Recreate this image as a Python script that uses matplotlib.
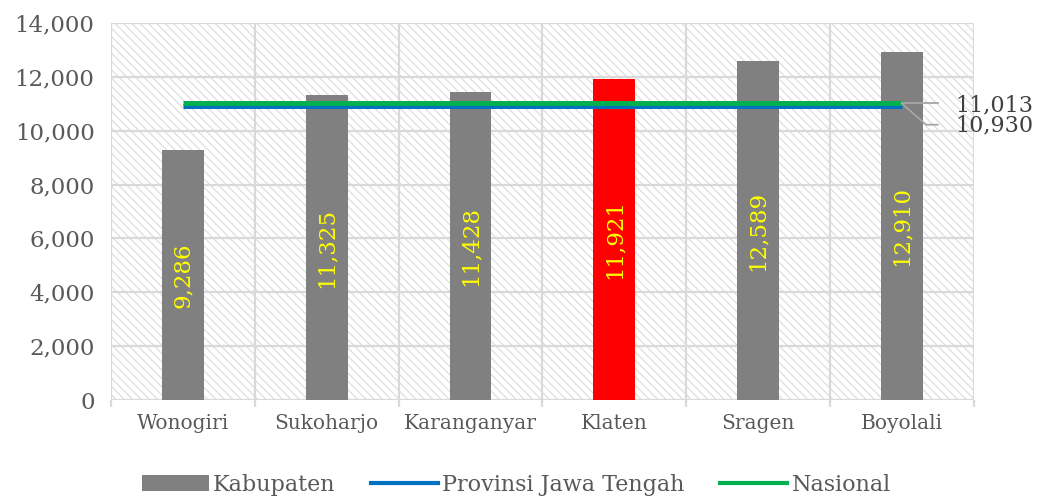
import matplotlib
matplotlib.use("Agg")
import matplotlib.pyplot as plt
from matplotlib.patches import Rectangle
from matplotlib.lines import Line2D
from matplotlib.patches import Patch

plt.rcParams['font.family'] = ['DejaVu Serif']
plt.rcParams['hatch.linewidth'] = 0.9
plt.rcParams['hatch.color'] = '#dedede'

categories = ["Wonogiri", "Sukoharjo", "Karanganyar", "Klaten", "Sragen", "Boyolali"]
kabupaten = [9286, 11325, 11428, 11921, 12589, 12910]
provinsi = 10930
nasional = 11013
bar_colors = ["#808080", "#808080", "#808080", "#ff0000", "#808080", "#808080"]

fig = plt.figure(figsize=(10.39, 4.97), dpi=100)
ax = fig.add_axes([0.107, 0.195, 0.830, 0.759])

x = list(range(len(categories)))
ax.set_xlim(-0.5, len(categories) - 0.5)
ax.set_ylim(0, 14000)

# hatched plot background
ax.add_patch(Rectangle((0, 0), 1, 1, transform=ax.transAxes, facecolor='white',
                       edgecolor='#dedede', hatch='\\\\\\\\', linewidth=0, zorder=0))

# grid
for yv in range(0, 14001, 2000):
    ax.axhline(yv, color='#d9d9d9', linewidth=1.6, zorder=1)
for xv in [i - 0.5 for i in range(len(categories) + 1)]:
    ax.axvline(xv, color='#d9d9d9', linewidth=1.6, zorder=1)

bars = ax.bar(x, kabupaten, width=0.29, color=bar_colors, zorder=2)

for xi, v in zip(x, kabupaten):
    ax.text(xi, v / 2, f"{v:,}", rotation=90, ha='center', va='center',
            color='#ffff00', fontsize=16.5, zorder=5)

ax.plot([x[0], x[-1]], [provinsi, provinsi], color='#0070c0', linewidth=3.6,
        solid_capstyle='butt', zorder=3)
ax.plot([x[0], x[-1]], [nasional, nasional], color='#00b050', linewidth=3.6,
        solid_capstyle='butt', zorder=4)

# value labels with leader lines
lead = '#a6a6a6'
ax.plot([x[-1], x[-1] + 0.25], [nasional, nasional], color=lead, linewidth=1.3,
        clip_on=False, zorder=6)
ax.plot([x[-1], x[-1] + 0.17, x[-1] + 0.25], [nasional, 10220, 10220], color=lead,
        linewidth=1.3, clip_on=False, zorder=6)
ax.text(x[-1] + 0.37, 10930, f"{nasional:,}", ha='left', va='center',
        fontsize=16, color='#404040', clip_on=False)
ax.text(x[-1] + 0.37, 10180, f"{provinsi:,}", ha='left', va='center',
        fontsize=16, color='#404040', clip_on=False)

for s in ax.spines.values():
    s.set_visible(False)

ax.set_yticks(range(0, 14001, 2000))
ax.set_yticklabels([f"{v:,}" for v in range(0, 14001, 2000)], fontsize=16.5, color='#595959')
ax.tick_params(axis='y', length=0, pad=12)
ax.set_xticks(x)
ax.set_xticklabels(categories, fontsize=14.5, color='#595959')
ax.tick_params(axis='x', length=0, pad=10)
ax.set_xticks([i - 0.5 for i in range(len(categories) + 1)], minor=True)
ax.tick_params(axis='x', which='minor', length=5, color='#d9d9d9', width=1.6)

handles = [Patch(facecolor='#808080'),
           Line2D([0], [0], color='#0070c0', linewidth=3),
           Line2D([0], [0], color='#00b050', linewidth=3)]
fig.legend(handles, ["Kabupaten", "Provinsi Jawa Tengah", "Nasional"],
           loc='center', bbox_to_anchor=(0.497, 0.025), ncol=3, frameon=False,
           fontsize=16, labelcolor='#595959', handlelength=3.0, handletextpad=0.2,
           columnspacing=1.6)

fig.savefig("out.png", dpi=100)
